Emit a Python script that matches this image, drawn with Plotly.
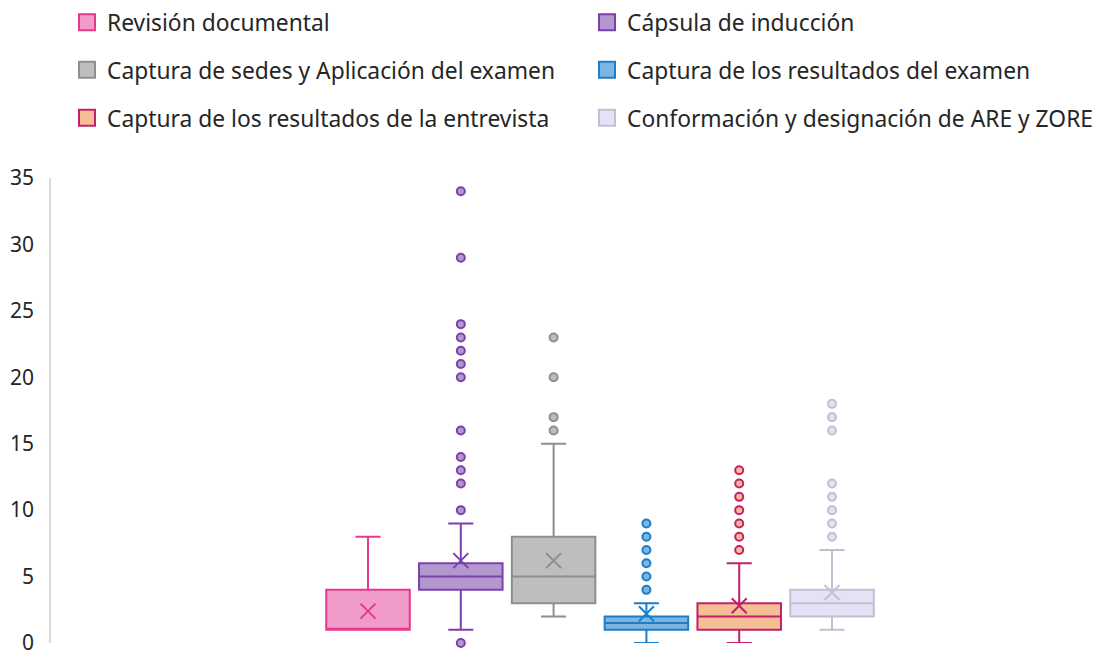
import plotly.graph_objects as go

# Series (one box per series, Excel-style box & whisker)
series = [
    "Revisión documental",
    "Cápsula de inducción",
    "Captura de sedes y Aplicación del examen",
    "Captura de los resultados del examen",
    "Captura de los resultados de la entrevista",
    "Conformación y designación de ARE y ZORE",
]

# Box statistics
q1 = [1, 4, 3, 1, 1, 2]
median = [1, 5, 5, 1.5, 2, 3]
q3 = [4, 6, 8, 2, 3, 4]
lower_whisker = [1, 1, 2, 0, 0, 1]
upper_whisker = [8, 9, 15, 3, 6, 7]
means = [2.4, 6.2, 6.2, 2.2, 2.8, 3.8]

# Outlier points per series
outliers = [
    [],
    [0, 10, 12, 13, 14, 16, 20, 21, 22, 23, 24, 29, 34],
    [16, 17, 20, 23],
    [4, 5, 6, 7, 8, 9],
    [7, 8, 9, 10, 11, 12, 13],
    [8, 9, 10, 11, 12, 16, 17, 18],
]

y_ticks = [0, 5, 10, 15, 20, 25, 30, 35]

fills = ["#F19BC9", "#B398D0", "#BEBEBE", "#7DB5E0", "#F5BE94", "#E6E1F5"]
borders = ["#E6398E", "#7E3FAE", "#8E8E8E", "#1D7DC8", "#C2206A", "#C3BED1"]

FONT = "Noto Sans"
W, H = 1099, 655

fig = go.Figure()

# legend slots: (item origin x, row centre y) in px
legend_slots = [(67, 22.5), (587, 22.5), (67, 70), (587, 70), (67, 118), (587, 118)]

for i, name in enumerate(series):
    lg = "legend" if i == 0 else f"legend{i + 1}"

    fig.add_trace(go.Box(
        x=[name], q1=[q1[i]], median=[median[i]], q3=[q3[i]],
        lowerfence=[lower_whisker[i]], upperfence=[upper_whisker[i]],
        fillcolor=fills[i], line=dict(color=borders[i], width=2),
        whiskerwidth=0.3, boxpoints=False, showlegend=False,
        name=name, legendgroup=name,
    ))

    if outliers[i]:
        fig.add_trace(go.Scatter(
            x=[name] * len(outliers[i]), y=outliers[i], mode="markers",
            marker=dict(symbol="circle", size=8, color=fills[i],
                        line=dict(color=borders[i], width=2)),
            cliponaxis=False, showlegend=False, legendgroup=name, name=name,
        ))

    # mean marker
    fig.add_trace(go.Scatter(
        x=[name], y=[means[i]], mode="markers",
        marker=dict(symbol="x-thin", size=15,
                    line=dict(color=borders[i], width=2)),
        cliponaxis=False, showlegend=False, legendgroup=name, name=name,
    ))

    # legend swatch
    fig.add_trace(go.Scatter(
        x=[None], y=[None], mode="markers", name=name, legendgroup=name,
        marker=dict(symbol="square", size=16, color=fills[i],
                    line=dict(color=borders[i], width=2)),
        showlegend=True, legend=lg,
    ))

    lx, ly = legend_slots[i]
    fig.update_layout({lg: dict(
        orientation="h", xref="container", yref="container",
        x=lx / W, y=1 - ly / H, xanchor="left", yanchor="middle",
        bgcolor="rgba(0,0,0,0)", borderwidth=0,
        font=dict(family=FONT, size=22.8, color="#262626"),
    )})

fig.update_layout(
    width=W, height=H,
    margin=dict(l=51, r=0, t=177.5, b=12, autoexpand=False),
    paper_bgcolor="white", plot_bgcolor="white",
    boxmode="overlay", boxgap=0.1, boxgroupgap=0,
    font=dict(family=FONT, size=20, color="#262626"),
    xaxis=dict(
        type="category", range=[-3.416, 7.877], automargin=False,
        showticklabels=False, showgrid=False, zeroline=False, showline=False,
    ),
    yaxis=dict(
        range=[0, 35], tickvals=y_ticks, showgrid=False, zeroline=False,
        showline=True, linecolor="#D9D9D9", linewidth=1.5, automargin=False,
        ticks="", ticklabelstandoff=11, ticklabeloverflow="allow",
        tickfont=dict(family=FONT, size=21, color="#262626"),
    ),
)

# drop the default 8px page margin so the figure sits at the window origin
fig.write_html("out.html", config={"displayModeBar": False},
               post_script="document.body.style.margin='0';")
